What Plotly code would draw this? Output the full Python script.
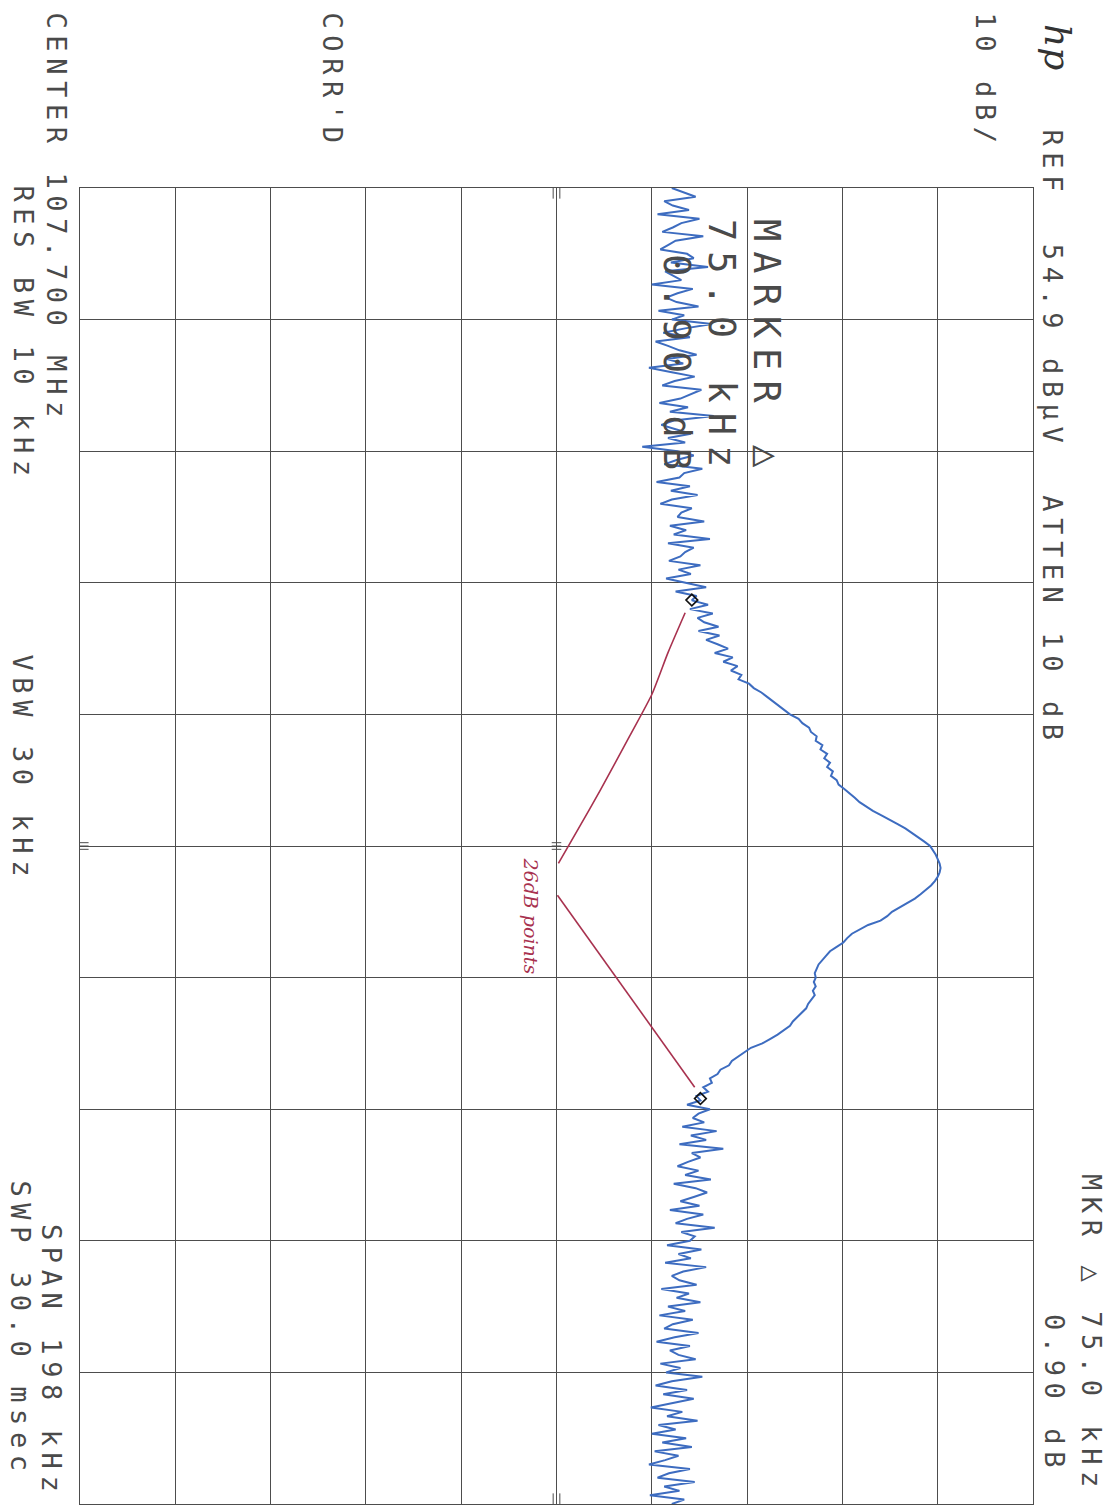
import numpy as np
import plotly.graph_objects as go

# ---------------- instrument settings ----------------
CENTER_MHZ = 107.700
SPAN_KHZ = 198.0
REF_DBUV = 54.9
DB_PER_DIV = 10
N_DIV = 10

# ---------------- measured trace (dBuV), one value per sweep bucket, low -> high frequency ----------------
LEVELS_DBUV = [
    # noise floor, lower band edge
    17.0, 18.2, 19.5, 16.2, 17.1, 18.8, 15.5, 19.9, 18.0, 17.1,
    16.0, 20.3, 17.4, 16.6, 15.8, 18.6, 19.3, 16.9, 20.8, 16.3,
    17.2, 18.0, 14.9, 19.2, 17.6, 16.4, 17.5, 19.8, 15.6, 18.3,
    17.0, 21.2, 18.4, 16.1, 18.9, 15.3, 16.6, 17.8, 19.6, 16.5,
    18.2, 14.6, 17.0, 19.4, 17.3, 16.0, 20.1, 19.0, 17.9, 15.7,
    18.7, 16.8, 21.4, 17.2, 15.9, 17.4, 19.0, 16.6, 18.4, 13.9,
    17.6, 19.3, 17.5, 16.2, 20.2, 18.3, 17.8, 15.4, 18.9, 16.9,
    19.7, 17.0, 15.8, 19.1, 18.0, 17.6, 20.4, 16.8, 18.5, 17.2,
    21.0, 16.6, 19.3, 18.4, 17.9, 16.7, 20.0, 17.7, 19.0, 16.4,
    18.6, 20.6, 17.4, 19.6,
    # signal (FM carrier)
    19.1, 20.8, 18.9, 21.3, 19.7, 20.4, 21.9, 19.8, 22.0, 20.6,
    21.8, 22.9, 21.5, 23.4, 22.4, 23.9, 23.2, 24.3, 24.0, 25.1,
    25.6, 26.4, 27.0, 27.6, 28.3, 28.9, 29.4, 30.3, 30.7, 31.4,
    31.6, 32.2, 32.1, 32.8, 32.6, 33.3, 33.0, 33.6, 33.3, 33.9,
    33.7, 34.3, 34.5, 35.1, 35.7, 36.2, 36.7, 37.4, 38.1, 39.0,
    39.9, 40.7, 41.5, 42.2, 42.9, 43.5, 44.1, 44.4, 44.7, 44.9,
    45.1, 45.2, 45.1, 44.9, 44.6, 44.2, 43.7, 43.1, 42.5, 41.7,
    40.8, 40.1, 39.6, 38.9, 37.6, 36.7, 35.9, 35.4, 35.0, 34.3,
    33.6, 33.2, 32.8, 32.4, 32.2, 32.0, 32.1, 31.9, 32.1, 31.8,
    32.0, 31.6, 31.3, 31.1, 30.6, 30.2, 29.7, 29.4, 28.8, 28.1,
    27.3, 26.5, 25.3, 24.6, 24.0, 23.3, 23.0, 22.1, 21.8, 21.0,
    21.2, 20.3, 20.8, 19.6, 20.0,
    # noise floor, upper band edge
    18.6, 21.0, 19.8, 19.2, 20.4, 18.1, 21.7, 19.0, 20.6, 17.8,
    22.4, 19.1, 20.0, 18.7, 17.6, 19.8, 18.4, 21.1, 17.2, 19.5,
    20.7, 19.3, 17.9, 19.9, 16.8, 20.3, 18.6, 17.4, 21.5, 18.0,
    19.4, 18.9, 16.5, 20.1, 17.7, 19.0, 16.3, 20.6, 18.2, 17.0,
    17.8, 19.6, 15.9, 18.8, 17.5, 20.0, 16.6, 18.4, 15.7, 19.2,
    17.1, 16.2, 19.8, 17.3, 15.4, 18.9, 16.8, 17.7, 19.5, 15.8,
    17.9, 16.4, 20.2, 17.0, 15.3, 18.6, 16.1, 19.3, 17.2, 14.8,
    18.1, 16.5, 19.7, 15.6, 17.4, 14.9, 18.5, 16.0, 19.1, 15.2,
    17.7, 16.3, 14.6, 18.9, 16.7, 15.5, 19.4, 16.2, 17.8, 14.7,
    18.3, 17.0,
]

# delta-marker pair (offset from centre, kHz / level dBuV)
MARKER_OFFSETS_KHZ = [-37.0, 38.0]
MARKER_LEVELS_DBUV = [19.1, 20.0]

# hand-drawn red pen lines to the "26dB points"
PEN_UPPER_KHZ = [-35.1, -29.1, -22.8, -16.6, -8.4, -2.6, 2.6]
PEN_UPPER_DBUV = [18.4, 16.6, 14.9, 12.6, 9.5, 7.2, 5.1]
PEN_LOWER_KHZ = [7.4, 36.3]
PEN_LOWER_DBUV = [5.0, 19.4]

# ---------------- figure geometry ----------------
W, H = 1116, 1507
ML, MR, MT, MB = 80, 83, 188, 3
PW, PH = W - ML - MR, H - MT - MB

def px(x):
    return (x - ML) / PW

def py(y):
    return 1 - (y - MT) / PH

bottom_db = REF_DBUV - DB_PER_DIV * N_DIV
offsets = np.linspace(-SPAN_KHZ / 2, SPAN_KHZ / 2, len(LEVELS_DBUV))

GRID = "#4d4d4d"
INK = "#4a4a4a"
BLUE = "#3d6cc0"
RED = "#a8324f"

fig = go.Figure()

fig.add_trace(go.Scatter(
    x=LEVELS_DBUV, y=offsets, mode="lines",
    line=dict(color=BLUE, width=2), showlegend=False, hoverinfo="skip"))

fig.add_trace(go.Scatter(
    x=PEN_UPPER_DBUV + [None] + PEN_LOWER_DBUV,
    y=PEN_UPPER_KHZ + [None] + PEN_LOWER_KHZ,
    mode="lines", line=dict(color=RED, width=1.6, shape="spline", smoothing=0.6),
    connectgaps=False, showlegend=False, hoverinfo="skip"))

fig.add_trace(go.Scatter(
    x=MARKER_LEVELS_DBUV, y=MARKER_OFFSETS_KHZ, mode="markers",
    marker=dict(symbol="diamond-open", size=9, color="#111111", line=dict(width=1.6, color="#111111")),
    showlegend=False, hoverinfo="skip"))

# centre graticule ticks
centre_db = REF_DBUV - DB_PER_DIV * N_DIV / 2
shapes = []
for d in (-0.35, 0.0, 0.35):
    shapes.append(dict(type="line", xref="x", yref="y", x0=centre_db + d, x1=centre_db + d,
                       y0=-SPAN_KHZ / 2, y1=-SPAN_KHZ / 2 + 1.6, line=dict(color=GRID, width=1)))
    shapes.append(dict(type="line", xref="x", yref="y", x0=centre_db + d, x1=centre_db + d,
                       y0=SPAN_KHZ / 2, y1=SPAN_KHZ / 2 - 1.6, line=dict(color=GRID, width=1)))
for d in (-0.5, 0.0, 0.5):
    shapes.append(dict(type="line", xref="x", yref="y", x0=bottom_db, x1=bottom_db + 0.9,
                       y0=d, y1=d, line=dict(color=GRID, width=1)))
    shapes.append(dict(type="line", xref="x", yref="y", x0=centre_db - 0.5, x1=centre_db + 0.5,
                       y0=d, y1=d, line=dict(color=GRID, width=1)))

def label(text, cx, top, size=27, spacing=6.6, color=INK, family="DejaVu Sans Mono"):
    return dict(xref="paper", yref="paper", x=px(cx), y=py(top), xanchor="center", yanchor="top",
                textangle=90, showarrow=False,
                text=f'<span style="letter-spacing:{spacing}px">{text}</span>',
                font=dict(family=family, size=size, color=color))

NB = "\u00a0"
annotations = [
    dict(xref="paper", yref="paper", x=px(1058), y=py(22), xanchor="center", yanchor="top",
         textangle=90, showarrow=False, text="<i>hp</i>",
         font=dict(family="DejaVu Serif", size=36, color="#333333")),
    label("10 dB/", 985, 10),
    label(f"REF{NB} 54.9 dBµV{NB} ATTEN 10 dB", 1052, 127),
    label("MKR △ 75.0 kHz", 1092, 1172),
    label("0.90 dB", 1055, 1312),
    label("CORR'D", 332, 10),
    label("CENTER 107.700 MHz", 56, 10),
    label("RES BW 10 kHz", 23, 183),
    label("VBW 30 kHz", 22, 652),
    label("SPAN 198 kHz", 52, 1222),
    label("SWP 30.0 msec", 20, 1178),
    label("MARKER △", 767, 217, size=37, spacing=10),
    label("75.0 kHz", 722, 217, size=37, spacing=10),
    label("0.90 dB", 677, 252, size=37, spacing=10),
    dict(xref="paper", yref="paper", x=px(531), y=py(855), xanchor="center", yanchor="top",
         textangle=90, showarrow=False, text="<i>26dB points</i>",
         font=dict(family="DejaVu Serif", size=19, color=RED)),
]

fig.update_layout(
    width=W, height=H, autosize=False,
    margin=dict(l=ML, r=MR, t=MT, b=MB, pad=0),
    paper_bgcolor="white", plot_bgcolor="white",
    shapes=shapes, annotations=annotations,
    xaxis=dict(range=[bottom_db, REF_DBUV], tick0=bottom_db, dtick=DB_PER_DIV,
               showgrid=True, gridcolor=GRID, gridwidth=1, zeroline=False,
               showticklabels=False, ticks="", showline=True, mirror=True,
               linecolor=GRID, linewidth=1.3, fixedrange=True),
    yaxis=dict(range=[SPAN_KHZ / 2, -SPAN_KHZ / 2], tick0=0, dtick=SPAN_KHZ / N_DIV,
               showgrid=True, gridcolor=GRID, gridwidth=1, zeroline=False,
               showticklabels=False, ticks="", showline=True, mirror=True,
               linecolor=GRID, linewidth=1.3, fixedrange=True),
)

fig.write_html("out.html")
